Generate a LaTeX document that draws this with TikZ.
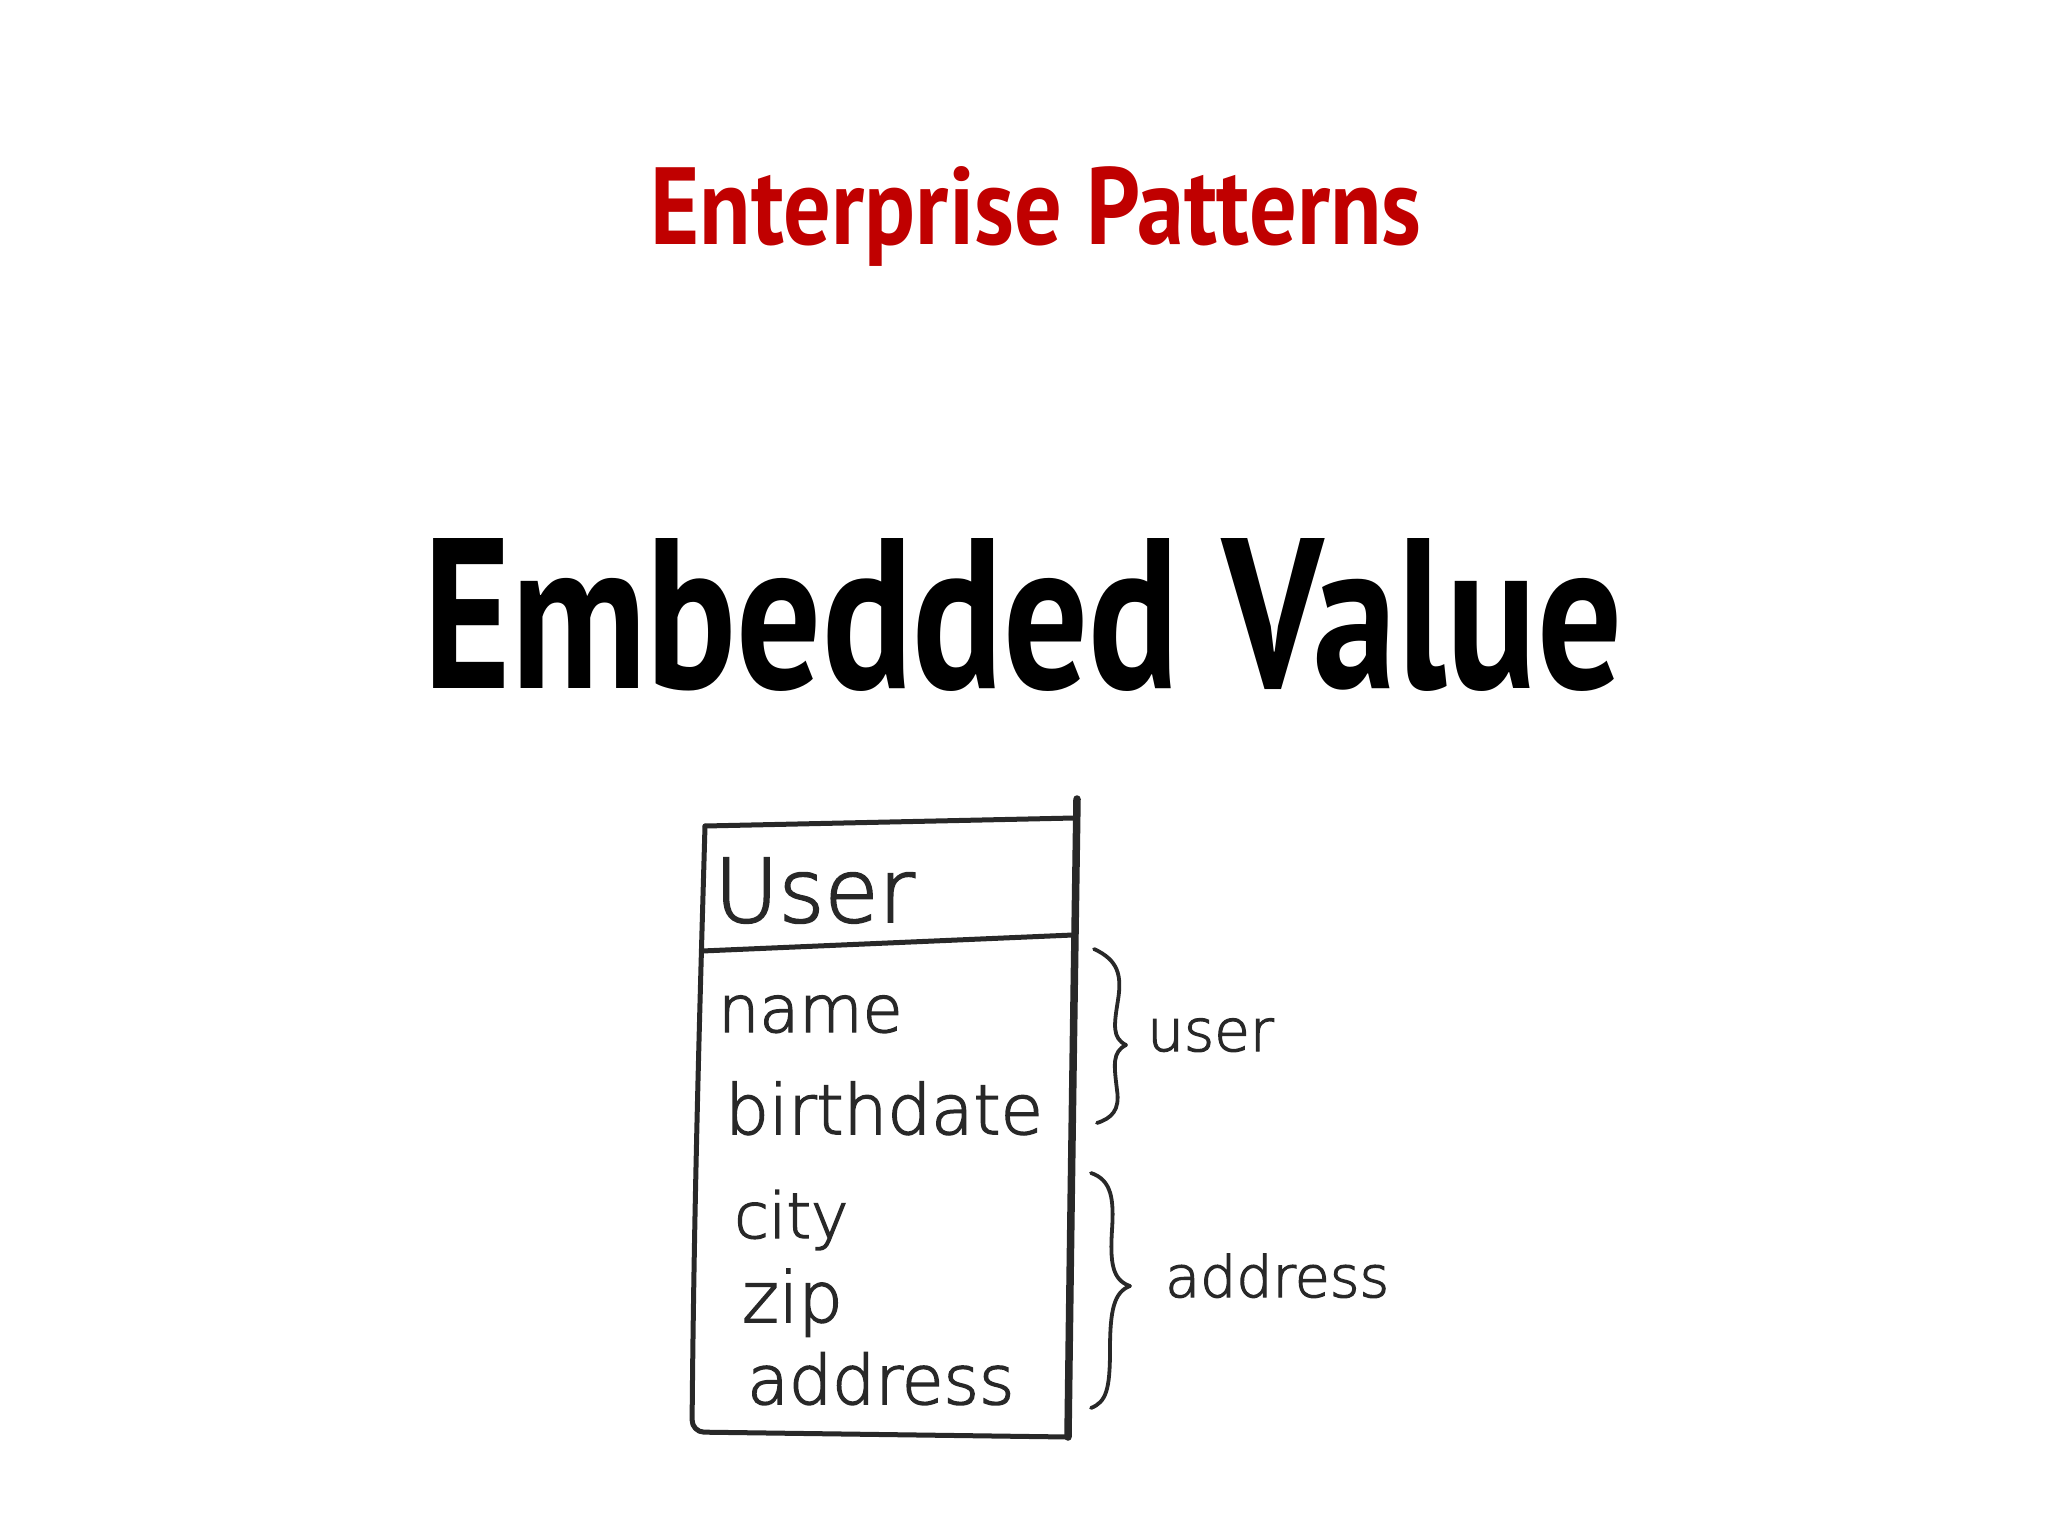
\documentclass[tikz,border=0pt]{standalone}
\usepackage{fontspec}
\usepackage{graphicx}
\setmainfont{PT Sans}
\newfontfamily\hand{DejaVu Sans ExtraLight}[FakeBold=2.2]
\definecolor{titlered}{RGB}{192,0,0}
\definecolor{ink}{RGB}{40,40,40}
\tikzset{
  pen/.style={draw=ink, line width=5pt, line cap=round, line join=round},
  heavypen/.style={draw=ink, line width=7.5pt, line cap=round},
  handtxt/.style={anchor=base west, inner sep=0pt, text=ink},
}
\begin{document}
\begin{tikzpicture}[x=1pt,y=-1pt]
\useasboundingbox[fill=white] (0,0) rectangle (2048,1536);
% titles
\node[anchor=base, inner sep=0pt] (title) at (1036,244)
  {\color{titlered}\resizebox{771pt}{78pt}{\bfseries Enterprise Patterns}};
\node[anchor=base, inner sep=0pt] (subtitle) at (1023,688)
  {\resizebox{1198pt}{150pt}{\bfseries Embedded Value}};
% box
\draw[pen, rounded corners=12pt] (705,826) .. controls (700,1000) and (694,1200) .. (692,1432)
  -- (1068,1437);
\draw[pen] (705,826) -- (1074,818);
\draw[heavypen] (1077,799) .. controls (1074,1000) and (1071,1200) .. (1068,1437);
\draw[pen] (702,951) -- (1073,935);
% texts
\node[handtxt, font=\hand\fontsize{88}{90}\selectfont] (user) at (714,922) {User};
\node[handtxt, font=\hand\fontsize{65}{70}\selectfont] (name) at (718,1032) {name};
\node[handtxt, font=\hand\fontsize{69}{70}\selectfont] (birth) at (725,1134) {birthdate};
\node[handtxt, font=\hand\fontsize{63}{70}\selectfont] (city) at (734,1238) {city};
\node[handtxt, font=\hand\fontsize{70}{70}\selectfont] (zip) at (742,1322) {zip};
\node[handtxt, font=\hand\fontsize{68}{70}\selectfont] (addr) at (747,1404) {address};
\node[handtxt, font=\hand\fontsize{58}{70}\selectfont] (userlbl) at (1147,1051) {user};
\node[handtxt, font=\hand\fontsize{57}{70}\selectfont] (addrlbl) at (1165,1297) {address};
% braces
\draw[pen, line width=3.8pt] (1094,949) .. controls (1118,960) and (1122,975) .. (1118,1000)
  .. controls (1114,1025) and (1112,1038) .. (1126,1045)
  .. controls (1112,1052) and (1114,1065) .. (1117,1090)
  .. controls (1120,1110) and (1112,1118) .. (1097,1123);
\draw[pen, line width=3.8pt] (1091,1173) .. controls (1112,1180) and (1114,1200) .. (1112,1230)
  .. controls (1110,1262) and (1112,1280) .. (1130,1286)
  .. controls (1114,1292) and (1110,1310) .. (1110,1350)
  .. controls (1110,1390) and (1106,1402) .. (1091,1408);
\end{tikzpicture}
\end{document}
